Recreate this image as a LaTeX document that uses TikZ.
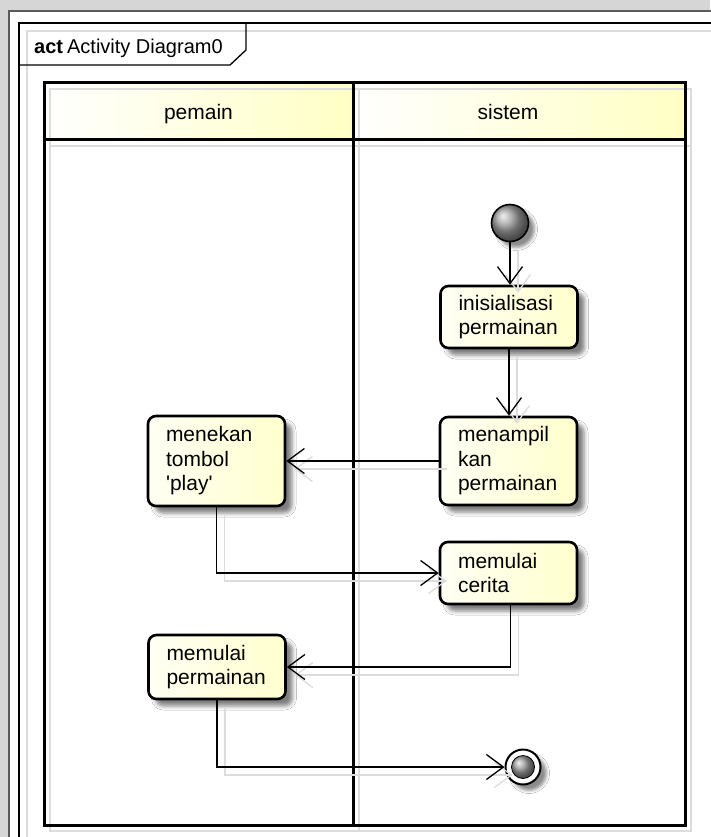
\documentclass[tikz,border=0pt]{standalone}
\usepackage{fontspec}
\setmainfont{Liberation Sans}
\usetikzlibrary{arrows.meta,shadows.blur}

\definecolor{bggray}{RGB}{214,214,214}
\definecolor{papergray}{RGB}{90,90,90}
\definecolor{shadowgray}{RGB}{220,220,220}
\definecolor{hdryellow}{RGB}{255,255,196}
\definecolor{boxyellow}{RGB}{255,255,206}
\definecolor{boxlight}{RGB}{255,255,244}

% text settings for activity boxes: no hyphenation
\newcommand\actboxfont{\fontsize{21}{24.5}\selectfont\hyphenpenalty 10000\relax\exhyphenpenalty 10000\relax}

\tikzset{
  actbox/.style={draw=black, line width=2.6pt, rounded corners=8pt,
    minimum width=137pt, text width=101pt, inner xsep=18pt, inner ysep=0pt,
    align=left, left color=boxlight, right color=boxyellow,
    font=\actboxfont,
    blur shadow={shadow xshift=7pt, shadow yshift=-7pt, shadow blur radius=4pt, shadow opacity=50}},
  lanehdr/.style={inner sep=0pt, left color=white, right color=hdryellow},
  lanelabel/.style={anchor=base, inner sep=0pt, font=\fontsize{21}{24}\selectfont},
  laneline/.style={draw=black, line width=3pt},
  laneshadow/.style={draw=shadowgray, line width=2pt},
  flow/.style={line width=1.3pt, -{Straight Barb[length=17pt,width=25pt,line width=1.3pt]}},
  flowshadow/.style={flow, draw=shadowgray, transform canvas={shift={(8pt,-8pt)}}},
  startnode/.style={circle, draw=black, line width=1.6pt, minimum size=37pt, inner sep=0pt,
    ball color=gray!75,
    blur shadow={shadow xshift=6pt, shadow yshift=-6pt, shadow blur radius=3pt, shadow opacity=45}},
  endring/.style={circle, draw=black, line width=2pt, fill=white, minimum size=35pt, inner sep=0pt,
    blur shadow={shadow xshift=6pt, shadow yshift=-6pt, shadow blur radius=3pt, shadow opacity=45}},
  endcore/.style={circle, draw=black, line width=0.8pt, minimum size=23pt, inner sep=0pt,
    ball color=gray!75},
}

\begin{document}
\begin{tikzpicture}[x=1pt,y=-1pt]
\useasboundingbox (0,0) rectangle (710,837);
\fill[bggray] (0,0) rectangle (710,837);

% sheet and diagram frame
\fill[white] (9,11) rectangle (720,850);
\draw[papergray, line width=1.2pt] (720,11) -- (9,11) -- (9,850);
\draw[shadowgray, line width=1.5pt] (720,31) -- (27,31) -- (27,850);
\draw[black, line width=1.5pt] (720,23) -- (19,23) -- (19,850);
\draw[black, line width=1.3pt] (19,65) -- (230,65) -- (246,50) -- (246,23);
\node[anchor=base west, inner sep=0pt, font=\fontsize{20}{23}\selectfont] (title) at (34,54)
  {\textbf{act}\kern4pt\relax Activity Diagram0};

% swimlanes
\node[lanehdr, minimum width=309pt, minimum height=57pt] (pemainhdr) at (198.5,111.5) {};
\node[lanehdr, minimum width=332pt, minimum height=57pt] (sistemhdr) at (519,111.5) {};
\draw[laneshadow] (50,89) rectangle (359,146);
\draw[laneshadow] (359,89) rectangle (691,146);
\draw[laneshadow] (50,146) rectangle (359,831);
\draw[laneshadow] (359,146) rectangle (691,831);
\draw[laneline] (44,83) rectangle (353,140);
\draw[laneline] (353,83) rectangle (685,140);
\draw[laneline] (44,140) rectangle (353,825);
\draw[laneline] (353,140) rectangle (685,825);
\node[lanelabel] (pemainlbl) at (198.5,120) {pemain};
\node[lanelabel] (sistemlbl) at (508,120) {sistem};

% activity nodes
\node[startnode] (init) at (510,223) {};
\node[actbox, minimum height=62pt] (inis) at (509,317) {inisialisasi\\permainan};
\node[actbox, minimum height=88pt] (tampil) at (508.5,461) {menampil\\kan\\permainan};
\node[actbox, minimum height=90pt] (tekan) at (216.5,461) {menekan\\tombol\\\textquotesingle play\textquotesingle};
\node[actbox, minimum height=62pt] (cerita) at (508.5,573) {memulai\\cerita};
\node[actbox, minimum height=64pt] (mulai) at (217,667) {memulai\\permainan};
\node[endring] (final) at (523,767) {};
\node[endcore] (finalcore) at (final) {};

% control flows (soft shadow copies first)
\draw[flowshadow] (init.south) -- (init.south |- inis.north);
\draw[flowshadow] (inis.south) -- (inis.south |- tampil.north);
\draw[flowshadow] (tampil.west) -- (tampil.west -| tekan.east);
\draw[flowshadow] (tekan.south) |- (cerita.west);
\draw[flowshadow] ([xshift=2pt]cerita.south) |- (mulai.east);
\draw[flowshadow] (mulai.south) |- (final.west);
\draw[flow] (init.south) -- (init.south |- inis.north);
\draw[flow] (inis.south) -- (inis.south |- tampil.north);
\draw[flow] (tampil.west) -- (tampil.west -| tekan.east);
\draw[flow] (tekan.south) |- (cerita.west);
\draw[flow] ([xshift=2pt]cerita.south) |- (mulai.east);
\draw[flow] (mulai.south) |- (final.west);
\end{tikzpicture}
\end{document}
